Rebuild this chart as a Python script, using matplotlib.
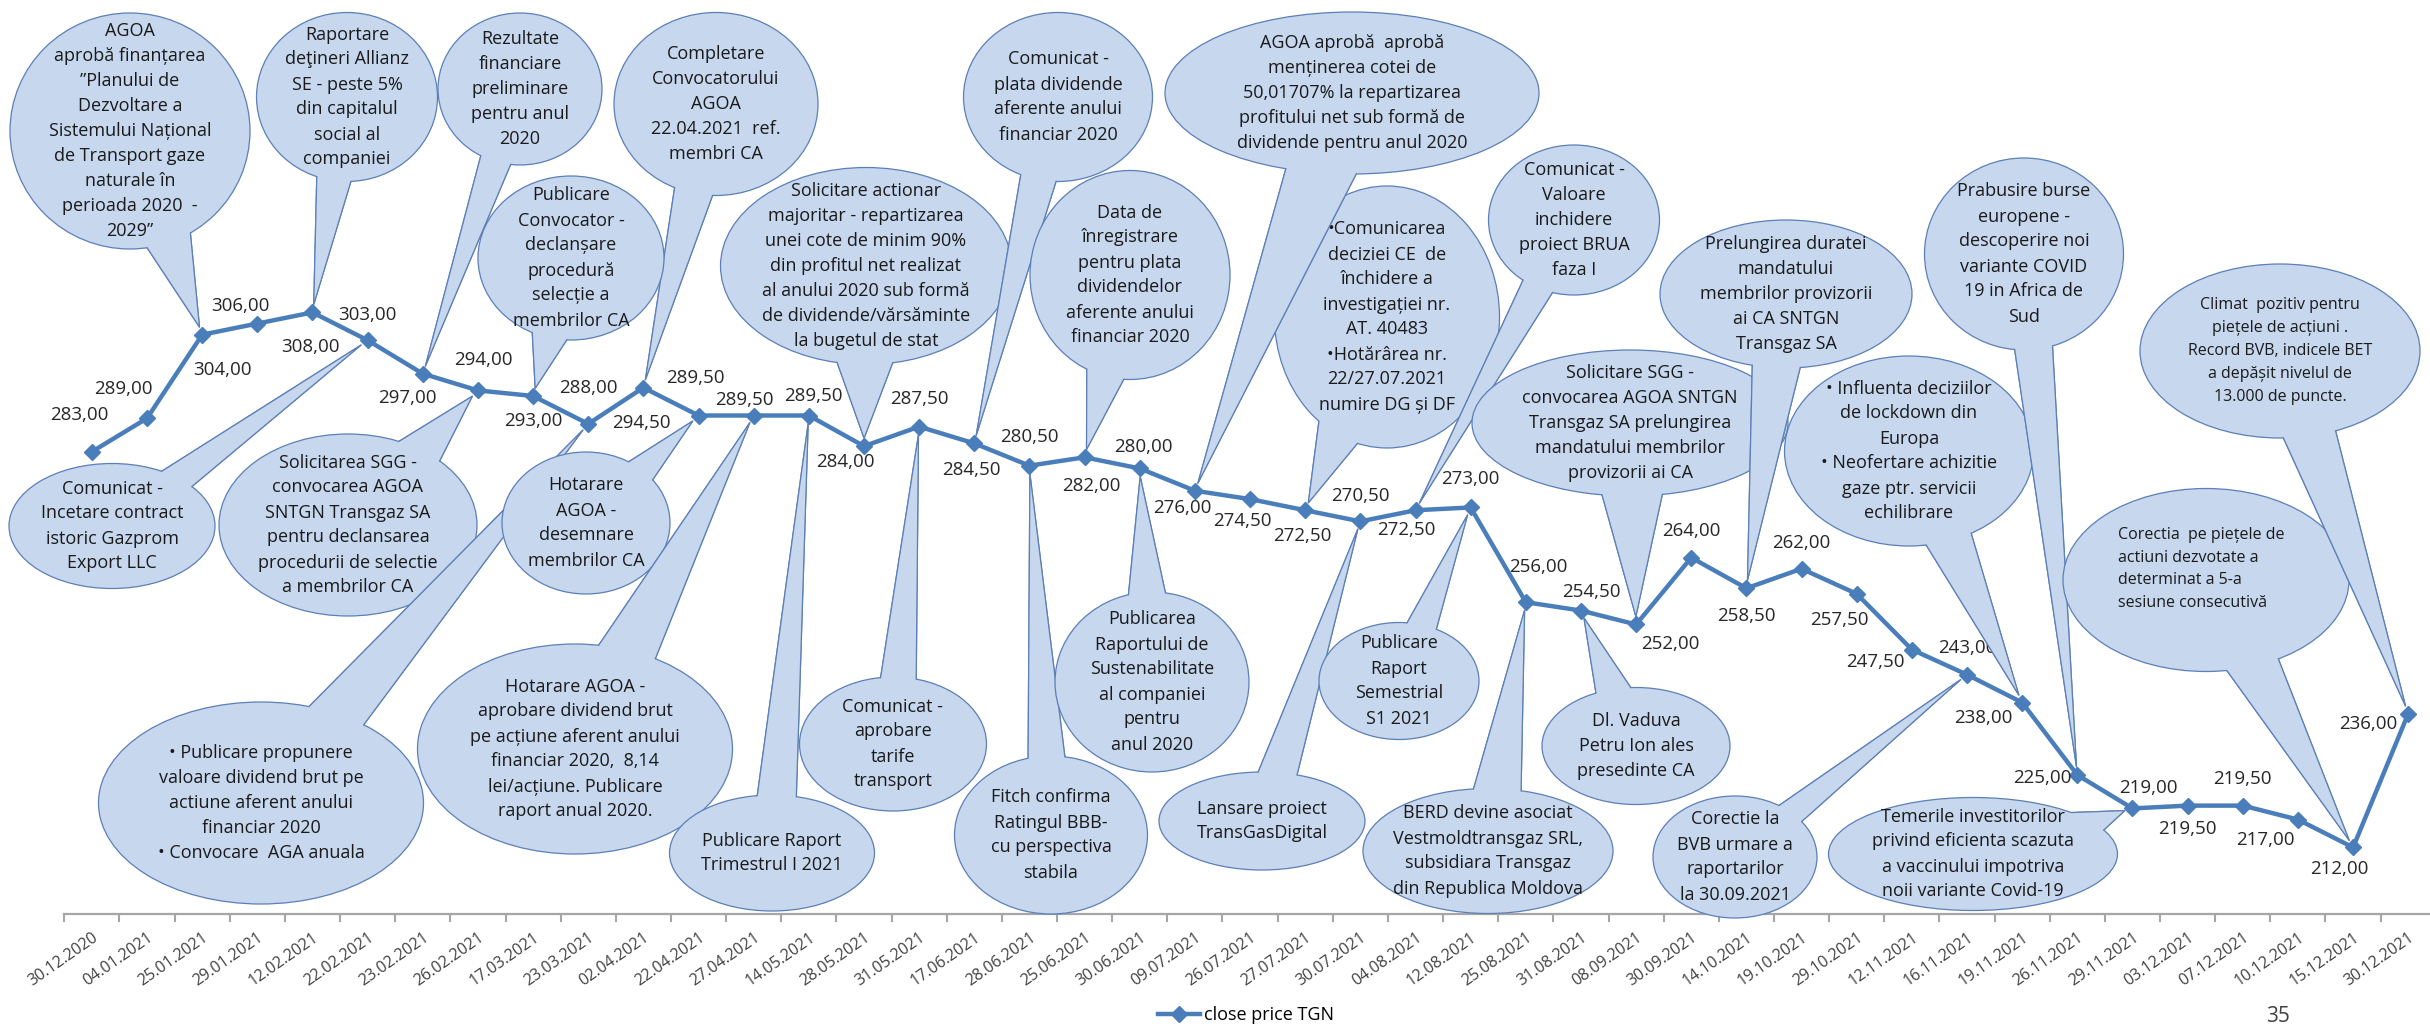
import numpy as np
import matplotlib
matplotlib.use('Agg')
import matplotlib.pyplot as plt
from matplotlib.patches import Ellipse, Polygon
from matplotlib.lines import Line2D

plt.rcParams['font.family'] = ['Open Sans', 'DejaVu Sans']

# --- data -----------------------------------------------------------------
dates = ['30.12.2020', '04.01.2021', '25.01.2021', '29.01.2021', '12.02.2021',
         '22.02.2021', '23.02.2021', '26.02.2021', '17.03.2021', '23.03.2021',
         '02.04.2021', '22.04.2021', '27.04.2021', '14.05.2021', '28.05.2021',
         '31.05.2021', '17.06.2021', '28.06.2021', '25.06.2021', '30.06.2021',
         '09.07.2021', '26.07.2021', '27.07.2021', '30.07.2021', '04.08.2021',
         '12.08.2021', '25.08.2021', '31.08.2021', '08.09.2021', '30.09.2021',
         '14.10.2021', '19.10.2021', '29.10.2021', '12.11.2021', '16.11.2021',
         '19.11.2021', '26.11.2021', '29.11.2021', '03.12.2021', '07.12.2021',
         '10.12.2021', '15.12.2021', '30.12.2021']
close = [283, 289, 304, 306, 308, 303, 297, 294, 293, 288,
         294.5, 289.5, 289.5, 289.5, 284, 287.5, 284.5, 280.5, 282, 280,
         276, 274.5, 272.5, 270.5, 272.5, 273, 256, 254.5, 252, 264,
         258.5, 262, 257.5, 247.5, 243, 238, 225, 219, 219.5, 219.5,
         217, 212, 236]
series_name = 'close price TGN'

# events: text of each callout and the index of the date it points at
event_text = [
    "Comunicat -\nIncetare contract\nistoric Gazprom\nExport LLC",
    "Solicitarea SGG -\nconvocarea AGOA\nSNTGN Transgaz SA\npentru declansarea\nprocedurii de selectie\na membrilor CA",
    "• Publicare propunere\nvaloare dividend brut pe\nactiune aferent anului\nfinanciar 2020\n• Convocare  AGA anuala",
    "Hotarare\nAGOA -\ndesemnare\nmembrilor CA",
    "Hotarare AGOA -\naprobare dividend brut\npe acțiune aferent anului\nfinanciar 2020,  8,14\nlei/acțiune. Publicare\nraport anual 2020.",
    "Publicare Raport\nTrimestrul I 2021",
    "Comunicat -\naprobare\ntarife\ntransport",
    "Fitch confirma\nRatingul BBB-\ncu perspectiva\nstabila",
    "Publicarea\nRaportului de\nSustenabilitate\nal companiei\npentru\nanul 2020",
    "Lansare proiect\nTransGasDigital",
    "Publicare\nRaport\nSemestrial\nS1 2021",
    "BERD devine asociat\nVestmoldtransgaz SRL,\nsubsidiara Transgaz\ndin Republica Moldova",
    "Dl. Vaduva\nPetru Ion ales\npresedinte CA",
    "Corectie la\nBVB urmare a\nraportarilor\nla 30.09.2021",
    "Temerile investitorilor\nprivind eficienta scazuta\na vaccinului impotriva\nnoii variante Covid-19",
    "AGOA\naprobă finanțarea\n”Planului de\nDezvoltare a\nSistemului Național\nde Transport gaze\nnaturale în\nperioada 2020  -\n2029”",
    "Raportare\ndeţineri Allianz\nSE - peste 5%\ndin capitalul\nsocial al\ncompaniei",
    "Rezultate\nfinanciare\npreliminare\npentru anul\n2020",
    "Completare\nConvocatorului\nAGOA\n22.04.2021  ref.\nmembri CA",
    "Publicare\nConvocator -\ndeclanșare\nprocedură\nselecție a\nmembrilor CA",
    "Solicitare actionar\nmajoritar - repartizarea\nunei cote de minim 90%\ndin profitul net realizat\nal anului 2020 sub formă\nde dividende/vărsăminte\nla bugetul de stat",
    "Comunicat -\nplata dividende\naferente anului\nfinanciar 2020",
    "Data de\nînregistrare\npentru plata\ndividendelor\naferente anului\nfinanciar 2020",
    "•Comunicarea\ndeciziei CE  de\nînchidere a\ninvestigației nr.\nAT. 40483\n•Hotărârea nr.\n22/27.07.2021\nnumire DG și DF",
    "AGOA aprobă  aprobă\nmenținerea cotei de\n50,01707% la repartizarea\nprofitului net sub formă de\ndividende pentru anul 2020",
    "Comunicat -\nValoare\ninchidere\nproiect BRUA\nfaza I",
    "Solicitare SGG -\nconvocarea AGOA SNTGN\nTransgaz SA prelungirea\nmandatului membrilor\nprovizorii ai CA",
    "Prelungirea duratei\nmandatului\nmembrilor provizorii\nai CA SNTGN\nTransgaz SA",
    "• Influenta deciziilor\nde lockdown din\nEuropa\n• Neofertare achizitie\ngaze ptr. servicii\nechilibrare",
    "Prabusire burse\neuropene -\ndescoperire noi\nvariante COVID\n19 in Africa de\nSud",
    "Corectia  pe piețele de\nactiuni dezvotate a\ndeterminat a 5-a\nsesiune consecutivă",
    "Climat  pozitiv pentru\npiețele de acțiuni .\nRecord BVB, indicele BET\na depășit nivelul de\n13.000 de puncte.",
]
event_idx = [5, 7, 9, 11, 12, 13, 15, 17, 19, 23, 25, 26, 27, 34, 37,
             2, 4, 6, 10, 8, 14, 16, 18, 22, 20, 24, 28, 30, 35, 36, 41, 42]

# --- layout (pixels of the 2430x1027 picture, y downwards) -----------------
# bubble centre x, centre y, width, height, font size
bubble_box = [
    (112, 526, 206, 125, 13), (348, 525, 258, 182, 13), (261, 803, 325, 202, 13),
    (586, 523, 168, 142, 13), (575, 749, 315, 210, 13), (772, 853, 205, 116, 13),
    (893, 744, 187, 134, 13), (1051, 835, 193, 158, 13), (1152, 682, 194, 180, 13),
    (1262, 821, 206, 98, 13), (1399, 681, 160, 117, 13), (1488, 851, 250, 125, 13),
    (1636, 746, 188, 117, 13), (1735, 857, 164, 122, 13), (1973, 854, 289, 113, 13),
    (130, 131, 240, 236, 13), (347, 97, 181, 169, 13), (520, 89, 164, 152, 13),
    (716, 104, 204, 183, 13), (571, 258, 186, 164, 13), (866, 266, 291, 197, 13),
    (1058, 97, 189, 169, 13), (1130, 275, 200, 209, 13), (1387, 317, 225, 262, 13),
    (1352, 93, 374, 162, 13), (1574, 220, 171, 150, 13), (1630, 423, 316, 146, 13),
    (1786, 294, 252, 148, 13), (1909, 451, 249, 190, 13), (2024, 254, 199, 192, 13),
    (2206, 580, 286, 183, 11.5), (2280, 351, 280, 174, 11.5),
]

# data label offsets from the marker, pixels (dy downwards)
lbl_dx = [-13, -24, 20, -17, -2, 0, -15, 5, 0, 0, -2, -3, -9, 5, -19, 0, -3, 0, 7, 4,
          -13, -8, -3, 0, -9, 0, 13, 10, 34, 0, 0, 0, -17, -36, 0, -39, -35, 16, 0, 0,
          -33, -14, -40]
lbl_dy = [-37, -29, 35, -18, 35, -25, 24, -30, 25, -36, 35, -38, -16, -20, 16, -28, 27,
          -29, 29, -21, 17, 22, 26, -25, 20, -28, -35, -19, 20, -27, 28, -26, 26, 12,
          -27, 15, 3, -20, 23, -27, 20, 22, 10]

W, H = 2430, 1027
line_col = '#4A7EBB'
fill_col = '#C6D7EE'
edge_col = '#5C7FB6'

fig = plt.figure(figsize=(W / 100, H / 100), dpi=100)
ax = fig.add_axes([64.3 / W, 1 - 914.3 / H, 2371.5 / W, (914.3 - 22.6) / H])

x = np.arange(len(close))
ax.plot(x, close, color=line_col, lw=3.2, marker='D', ms=8.5, mfc=line_col,
        mec=line_col, label=series_name, zorder=3)
ax.set_xlim(-0.5, len(close) - 0.5)
ax.set_ylim(200, 360)

for sp in ['left', 'right', 'top']:
    ax.spines[sp].set_visible(False)
ax.spines['bottom'].set_color('#A6A6A6')
ax.spines['bottom'].set_linewidth(1.6)
ax.set_yticks([])
ax.set_xticks(x)
ax.set_xticklabels(dates, rotation=35, ha='right', rotation_mode='anchor',
                   fontsize=11.5, color='#404040')
ax.set_xticks(np.arange(-0.5, len(close)), minor=True)
ax.tick_params(axis='x', which='major', length=0, pad=11)
ax.tick_params(axis='x', which='minor', length=6, width=1.5, color='#A6A6A6')

for i, v in enumerate(close):
    ax.annotate(f'{v:.2f}'.replace('.', ','), (i, v),
                xytext=(lbl_dx[i] * 0.72, -lbl_dy[i] * 0.72),
                textcoords='offset points', ha='center', va='center',
                fontsize=13.5, color='#262626', zorder=4)

ax.legend(loc='center', bbox_to_anchor=(1246 / W, 1 - 1015 / H),
          bbox_transform=fig.transFigure, frameon=False, fontsize=13,
          handlelength=2.3, handletextpad=0.2)

fig.text(2278 / W, 1 - 1017 / H, '35', ha='center', va='center',
         fontsize=15, color='#404040')

# overlay in picture pixels for the callouts
ov = fig.add_axes([0, 0, 1, 1], zorder=5)
ov.set_xlim(0, W)
ov.set_ylim(H, 0)
ov.axis('off')


def to_px(i, v):
    d = ax.transData.transform((i, v))
    return ov.transData.inverted().transform(d)


def callout(k, cx, cy, w, h, tip):
    z = 10 + k * 5
    a, b = w / 2, h / 2
    tx, ty = tip
    # stop the wedge just short of the marker
    dv = np.array([cx - tx, cy - ty])
    tx, ty = np.array([tx, ty]) + dv / np.hypot(*dv) * 8
    t = np.arctan2((ty - cy) / b, (tx - cx) / a)
    dd = np.radians(11)
    p1 = (cx + a * np.cos(t - dd), cy + b * np.sin(t - dd))
    p2 = (cx + a * np.cos(t + dd), cy + b * np.sin(t + dd))
    ov.add_patch(Polygon([p1, (tx, ty), p2], closed=True, fc=fill_col,
                         ec=edge_col, lw=0.9, zorder=z))
    ov.add_patch(Ellipse((cx, cy), w, h, fc=fill_col, ec=edge_col, lw=0.9,
                         zorder=z + 1))
    ov.add_patch(Polygon([(cx, cy), p1, (tx, ty), p2], closed=True,
                         fc=fill_col, ec='none', zorder=z + 2))
    ov.add_line(Line2D([p1[0], tx, p2[0]], [p1[1], ty, p2[1]], color=edge_col,
                       lw=0.9, zorder=z + 3))
    return z + 4


for k, (txt, idx, box) in enumerate(zip(event_text, event_idx, bubble_box)):
    cx, cy, w, h, fs = box
    zt = callout(k, cx, cy, w, h, to_px(idx, close[idx]))
    if txt.startswith('Corectia'):
        ov.text(2118, 569, txt, ha='left', va='center', ma='left', fontsize=fs,
                linespacing=1.58, color='#1A1A1A', zorder=zt)
    elif fs < 13:
        ov.text(cx, cy, txt, ha='center', va='center', ma='center', fontsize=fs,
                linespacing=1.58, color='#1A1A1A', zorder=zt)
    else:
        ov.text(cx, cy, txt, ha='center', va='center', ma='center', fontsize=fs,
                linespacing=1.5, color='#1A1A1A', zorder=zt)

fig.savefig('out.png', dpi=100)
